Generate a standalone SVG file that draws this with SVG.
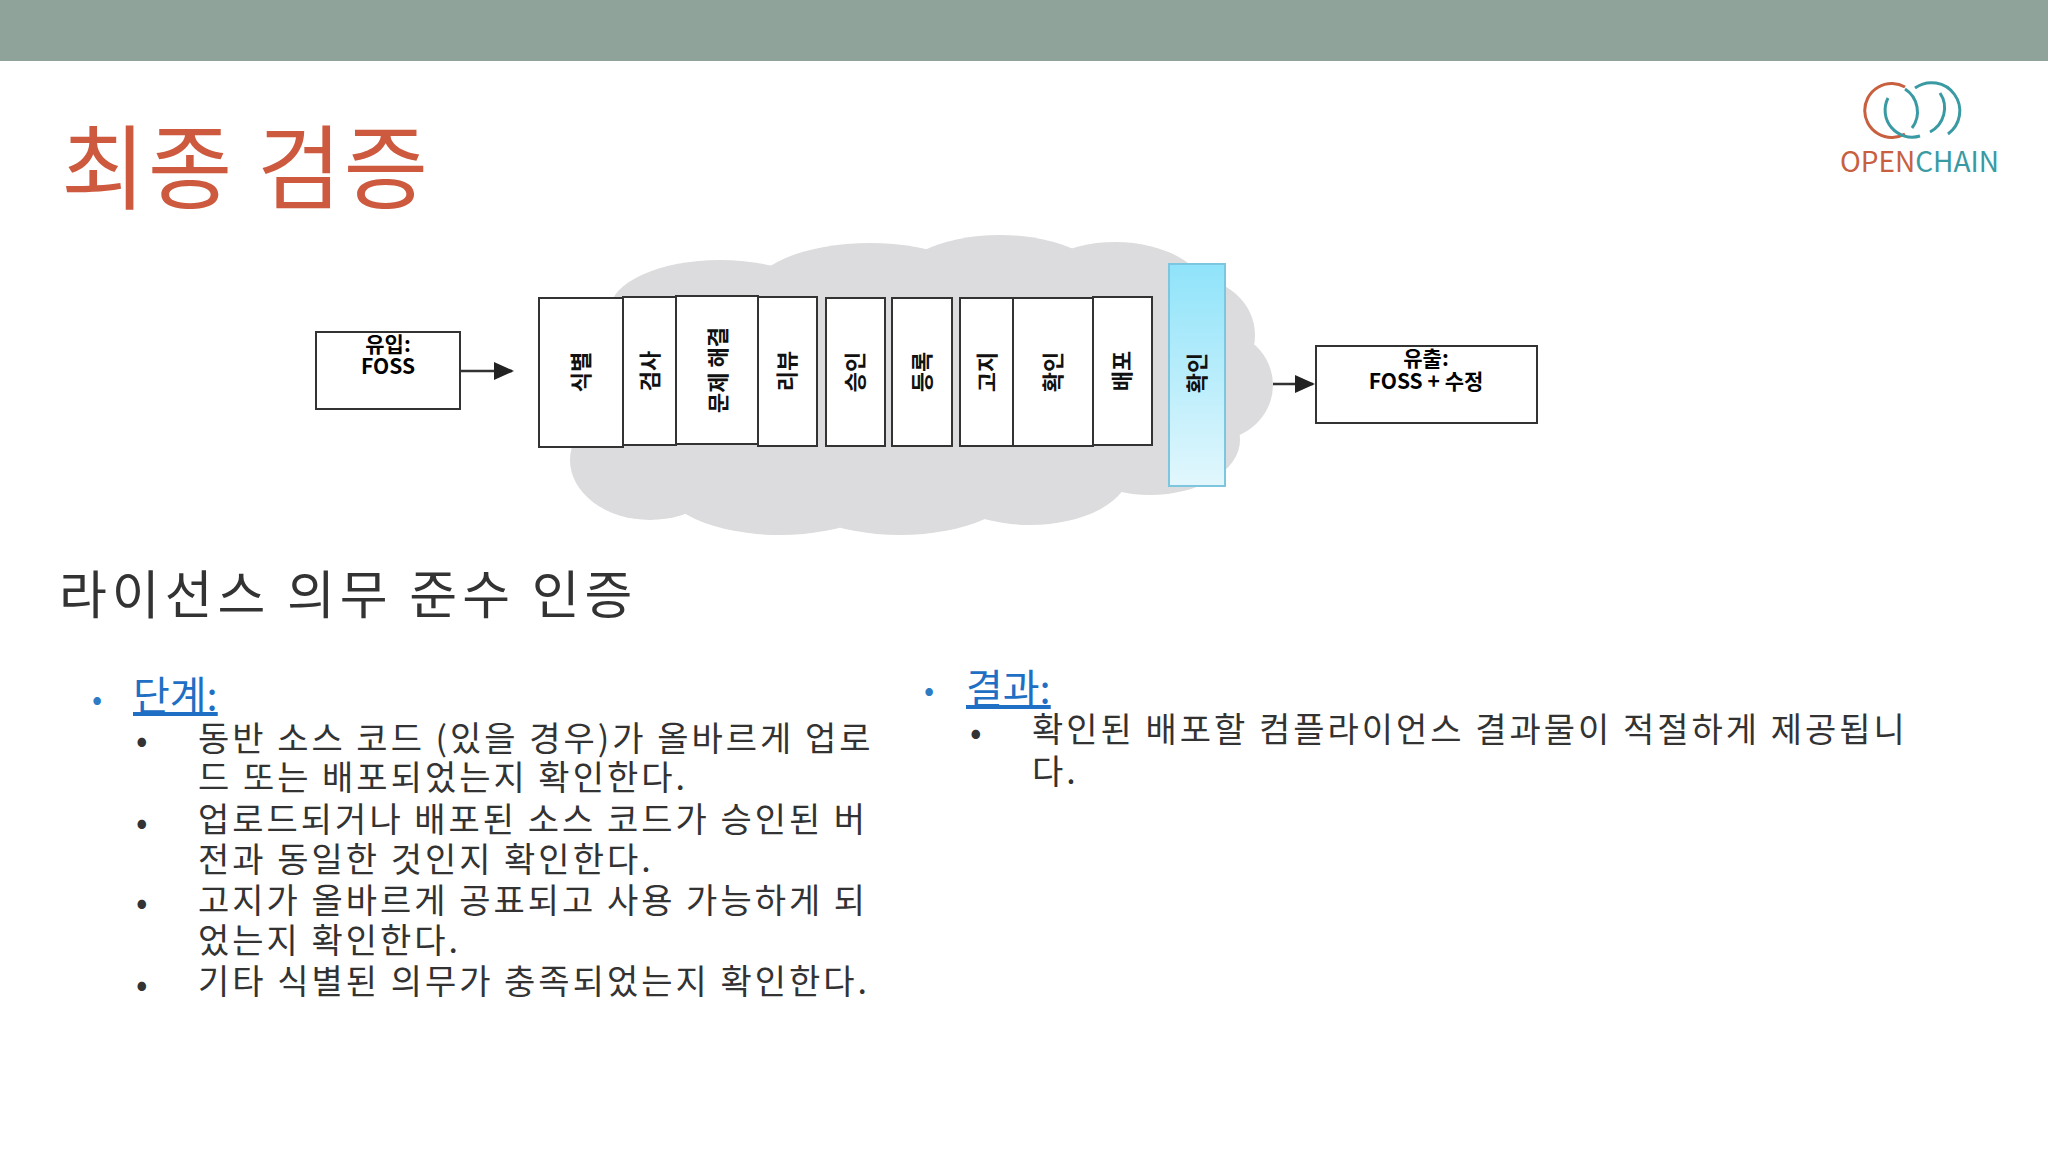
<svg xmlns="http://www.w3.org/2000/svg" width="2048" height="1152" viewBox="0 0 2048 1152">
<style>
text{font-family:"Noto Sans CJK KR","Noto Sans",sans-serif}
.box{fill:#fff;stroke:#333;stroke-width:2}
.col{font-size:22px;font-weight:bold;fill:#111}
.body{font-size:34px;fill:#333;letter-spacing:3px}
.ln{stroke:#333;stroke-width:2.5}
</style>
<defs>
<marker id="ah" markerWidth="20" markerHeight="20" refX="18" refY="10" orient="auto" markerUnits="userSpaceOnUse" viewBox="0 0 20 20"><path d="M0,1L20,10L0,19z" fill="#222"/></marker>
<linearGradient id="hg" x1="0" y1="0" x2="0" y2="1"><stop offset="0" stop-color="#8fe3fa"/><stop offset="1" stop-color="#e2f7fd"/></linearGradient>
</defs>
<rect width="2048" height="1152" fill="#fff"/>
<rect width="2048" height="61" fill="#8fa39a"/>
<text x="61" y="202" font-size="92" fill="#cd5a3f" letter-spacing="2">최종 검증</text>
<g id="logo" fill="none" stroke-width="3">
<path d="M1905,87 A27,27 0 1 0 1905,134" stroke="#c8603f"/>
<path d="M1905,89 A27,27 0 0 1 1912,128" stroke="#3a9aa4"/>
<path d="M1888,98 A27,27 0 0 0 1920,136" stroke="#3a9aa4"/>
<path d="M1915,88 A27,27 0 1 1 1948,134" stroke="#3a9aa4"/>
<path d="M1940,93 A27,27 0 0 1 1930,132" stroke="#3a9aa4"/>
<text x="1840" y="172" font-size="28" font-family="Open Sans,sans-serif" stroke="none" fill="#c8603f">OPEN<tspan fill="#3a9aa4">CHAIN</tspan></text>
</g>
<g id="cloud" fill="#dcdcde">
<ellipse cx="720" cy="310" rx="110" ry="50"/>
<ellipse cx="870" cy="295" rx="120" ry="52"/>
<ellipse cx="1000" cy="290" rx="110" ry="55"/>
<ellipse cx="1115" cy="300" rx="95" ry="58"/>
<ellipse cx="1190" cy="335" rx="65" ry="58"/>
<ellipse cx="1215" cy="385" rx="58" ry="55"/>
<ellipse cx="630" cy="390" rx="80" ry="70"/>
<ellipse cx="650" cy="460" rx="80" ry="60"/>
<ellipse cx="780" cy="480" rx="120" ry="55"/>
<ellipse cx="900" cy="480" rx="120" ry="55"/>
<ellipse cx="1030" cy="470" rx="100" ry="55"/>
<ellipse cx="1150" cy="440" rx="90" ry="55"/>
<rect x="600" y="300" width="600" height="170"/>
</g>
<g id="connectors">
<line class="ln" x1="460" y1="371" x2="512" y2="371" marker-end="url(#ah)"/>
<line class="ln" x1="1273" y1="384" x2="1313" y2="384" marker-end="url(#ah)"/>
</g>
<g id="in"><rect class="box" x="316" y="332" width="144" height="77"/>
<text x="388" y="352" font-size="21" font-weight="bold" text-anchor="middle">유입:</text>
<text x="388" y="374" font-size="21" font-weight="bold" text-anchor="middle">FOSS</text></g>
<g id="c1"><rect class="box" x="539" y="298" width="84" height="149"/><text class="col" transform="translate(589,372) rotate(-90)" text-anchor="middle">식별</text></g>
<g id="c2"><rect class="box" x="623" y="297" width="53" height="148"/><text class="col" transform="translate(658,371) rotate(-90)" text-anchor="middle">검사</text></g>
<g id="c3"><rect class="box" x="676" y="296" width="82" height="148"/><text class="col" transform="translate(726,370) rotate(-90)" text-anchor="middle">문제 해결</text></g>
<g id="c4"><rect class="box" x="758" y="297" width="59" height="149"/><text class="col" transform="translate(795,371) rotate(-90)" text-anchor="middle">리뷰</text></g>
<g id="c5"><rect class="box" x="826" y="298" width="59" height="148"/><text class="col" transform="translate(863,372) rotate(-90)" text-anchor="middle">승인</text></g>
<g id="c6"><rect class="box" x="892" y="298" width="60" height="148"/><text class="col" transform="translate(930,372) rotate(-90)" text-anchor="middle">등록</text></g>
<g id="c7"><rect class="box" x="960" y="298" width="53" height="148"/><text class="col" transform="translate(995,372) rotate(-90)" text-anchor="middle">고지</text></g>
<g id="c8"><rect class="box" x="1013" y="298" width="80" height="148"/><text class="col" transform="translate(1061,372) rotate(-90)" text-anchor="middle">확인</text></g>
<g id="c9"><rect class="box" x="1093" y="297" width="59" height="148"/><text class="col" transform="translate(1130,371) rotate(-90)" text-anchor="middle">배포</text></g>
<g id="c10"><rect x="1169" y="264" width="56" height="222" fill="url(#hg)" stroke="#7cc6e0" stroke-width="2"/><text class="col" transform="translate(1205,373) rotate(-90)" text-anchor="middle" fill="#333">확인</text></g>
<g id="out"><rect class="box" x="1316" y="346" width="221" height="77"/>
<text x="1426" y="366" font-size="21" font-weight="bold" text-anchor="middle">유출:</text>
<text x="1426" y="389" font-size="21" font-weight="bold" text-anchor="middle">FOSS + 수정</text></g>
<text x="59" y="614" font-size="52" fill="#333" letter-spacing="5">라이선스 의무 준수 인증</text>
<text x="92" y="710" font-size="30" fill="#2e7bc4">•</text>
<text x="133" y="710" font-size="40" fill="#1f6fc4" text-decoration="underline">단계:</text>
<g class="body">
<text x="136" y="752">•</text><text x="198" y="751">동반 소스 코드 (있을 경우)가 올바르게 업로</text>
<text x="198" y="790">드  또는 배포되었는지 확인한다.</text>
<text x="136" y="834">•</text><text x="198" y="832">업로드되거나 배포된 소스 코드가 승인된 버</text>
<text x="198" y="872">전과 동일한 것인지 확인한다.</text>
<text x="136" y="914">•</text><text x="198" y="913">고지가 올바르게 공표되고 사용 가능하게 되</text>
<text x="198" y="953">었는지 확인한다.</text>
<text x="136" y="996">•</text><text x="198" y="994">기타 식별된 의무가 충족되었는지 확인한다.</text>
</g>
<text x="924" y="701" font-size="30" fill="#2e7bc4">•</text>
<text x="966" y="703" font-size="40" fill="#1f6fc4" text-decoration="underline">결과:</text>
<g class="body">
<text x="970" y="744">•</text><text x="1032" y="742">확인된 배포할 컴플라이언스 결과물이 적절하게 제공됩니</text>
<text x="1032" y="784">다.</text>
</g>
</svg>
